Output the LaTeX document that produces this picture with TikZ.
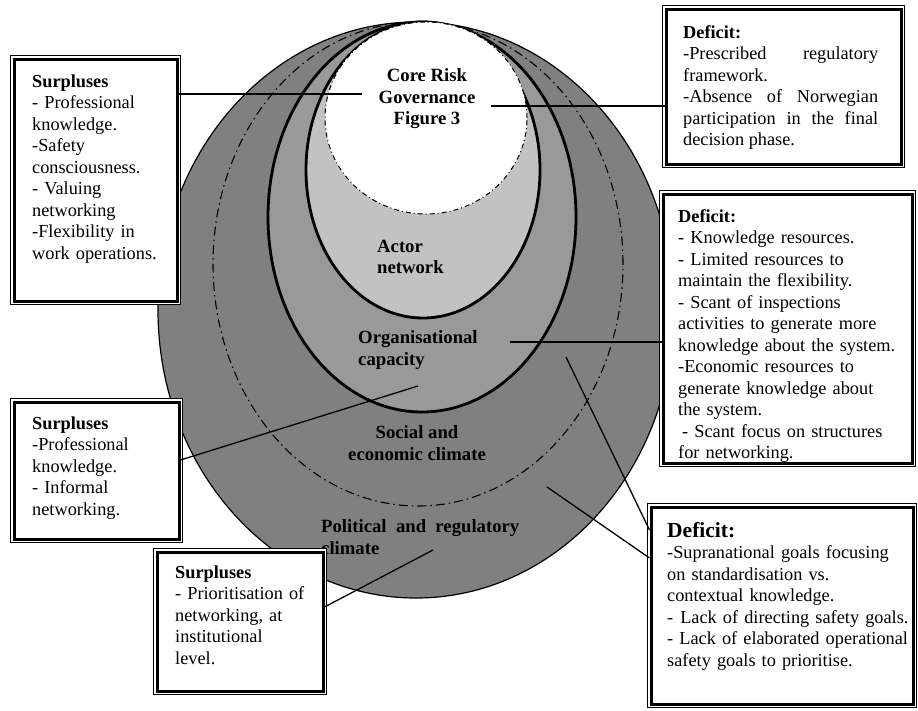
\documentclass[tikz,border=0pt]{standalone}
\usepackage{fontspec}
\setmainfont{Liberation Serif}
\definecolor{climategray}{gray}{0.5}
\definecolor{orggray}{gray}{0.6}
\definecolor{actorgray}{gray}{0.76}
\begin{document}
\begin{tikzpicture}[x=1pt,y=1pt,
  font=\fontsize{18.3}{21.5}\selectfont,
  frame/.style={draw,line width=3pt,fill=white,inner sep=0pt,
    preaction={draw,line width=7.8pt},preaction={draw=white,line width=6pt}},
  txt/.style={inner sep=0pt,align=left,text width=255pt,anchor=base west},
  lbl/.style={inner sep=0pt,font=\fontsize{18.7}{21.5}\selectfont\bfseries},
  ring/.style={draw,line width=2.8pt},
  chainline/.style={draw,line width=1.1pt,dash pattern=on 9pt off 4pt on 1.5pt off 4pt},
  link/.style={draw,line width=1.3pt}]
\useasboundingbox (0,0) rectangle (918,-710);
\draw[fill=climategray,line width=1.2pt] (416,-310) ellipse [x radius=258pt, y radius=288pt];
\draw[chainline] (418,-264) ellipse [x radius=205pt, y radius=242pt];
\draw[ring,fill=orggray] (422,-217) ellipse [x radius=154pt, y radius=195pt];
\draw[ring,fill=actorgray] (423,-170) ellipse [x radius=117pt, y radius=148pt];
\draw[fill=white,line width=1pt,dash pattern=on 5pt off 3pt on 1pt off 3pt] (426,-118) ellipse [x radius=101pt, y radius=96pt];
\node[lbl,align=center] (core) at (427,-99) {Core Risk\\Governance\\Figure 3};
\node[lbl,align=left,anchor=west] (actor) at (377,-257) {Actor\\network};
\node[lbl,align=left,anchor=west] (org) at (358,-350) {Organisational\\capacity};
\node[lbl,align=center] (social) at (417,-443) {Social and\\economic climate};
\node[lbl,align=left,anchor=west] (political) at (321,-537) {Political\ \ and\ \ regulatory\\climate};
\coordinate (pCore) at (362,-94);
\coordinate (pGov) at (491,-106);
\coordinate (pOrg) at (510,-342);
\coordinate (pSoc) at (566,-357);
\coordinate (pPol) at (547,-487);
\coordinate (pCap) at (418,-386);
\coordinate (pClim) at (433,-550);
\node[frame,minimum width=163pt,minimum height=242pt] (boxA) at (95.5,-180) {};
\node[frame,minimum width=165pt,minimum height=137pt] (boxA2) at (96.5,-470.5) {};
\node[frame,minimum width=166pt,minimum height=139pt] (boxD) at (240,-621.5) {};
\node[frame,minimum width=235pt,minimum height=155pt] (boxB) at (783.5,-86.5) {};
\node[frame,minimum width=249pt,minimum height=269pt] (boxC) at (787.5,-328.5) {};
\node[frame,minimum width=262pt,minimum height=197pt] (boxE) at (782,-605.5) {};
\draw[link] (boxA.east |- pCore) -- (pCore);
\draw[link] (pGov) -- (boxB.west |- pGov);
\draw[link] (pOrg) -- (boxC.west |- pOrg);
\draw[link] (pSoc) -- (boxE.west |- 0,-530);
\draw[link] (pPol) -- (boxE.west |- 0,-558);
\draw[link] (pCap) -- (boxA2.east |- 0,-460);
\draw[link] (pClim) -- (boxD.east |- 0,-607);
\node[txt] (tA) at (32,-87) {\textbf{Surpluses}\\- Professional\\knowledge.\\-Safety\\consciousness.\\- Valuing\\networking\\-Flexibility in\\work operations.};
\node[txt] (tA2) at (32,-429) {\textbf{Surpluses}\\-Professional\\knowledge.\\- Informal\\networking.};
\node[txt] (tD) at (175,-578) {\textbf{Surpluses}\\- Prioritisation of\\networking, at\\institutional\\level.};
\node[txt,text width=195pt,align=justify] (tB) at (683,-38) {\textbf{Deficit:}\\-Prescribed\hfill regulatory\\framework.\\-Absence\hfill of\hfill Norwegian\\participation\hfill in\hfill the\hfill final\\decision phase.};
\node[txt] (tC) at (678,-222) {\textbf{Deficit:}\\- Knowledge resources.\\- Limited resources to\\maintain the flexibility.\\- Scant of inspections\\activities to generate more\\knowledge about the system.\\-Economic resources to\\generate knowledge about\\the system.\\\hspace*{4pt}- Scant focus on structures\\for networking.};
\node[txt] (tE) at (667,-537) {{\fontsize{21.5}{21.5}\selectfont\bfseries Deficit:}\\-Supranational goals focusing\\on standardisation vs.\\contextual knowledge.\\-\hspace{7pt}Lack of directing safety goals.\\- Lack of elaborated operational\\safety goals to prioritise.};
\end{tikzpicture}
\end{document}
